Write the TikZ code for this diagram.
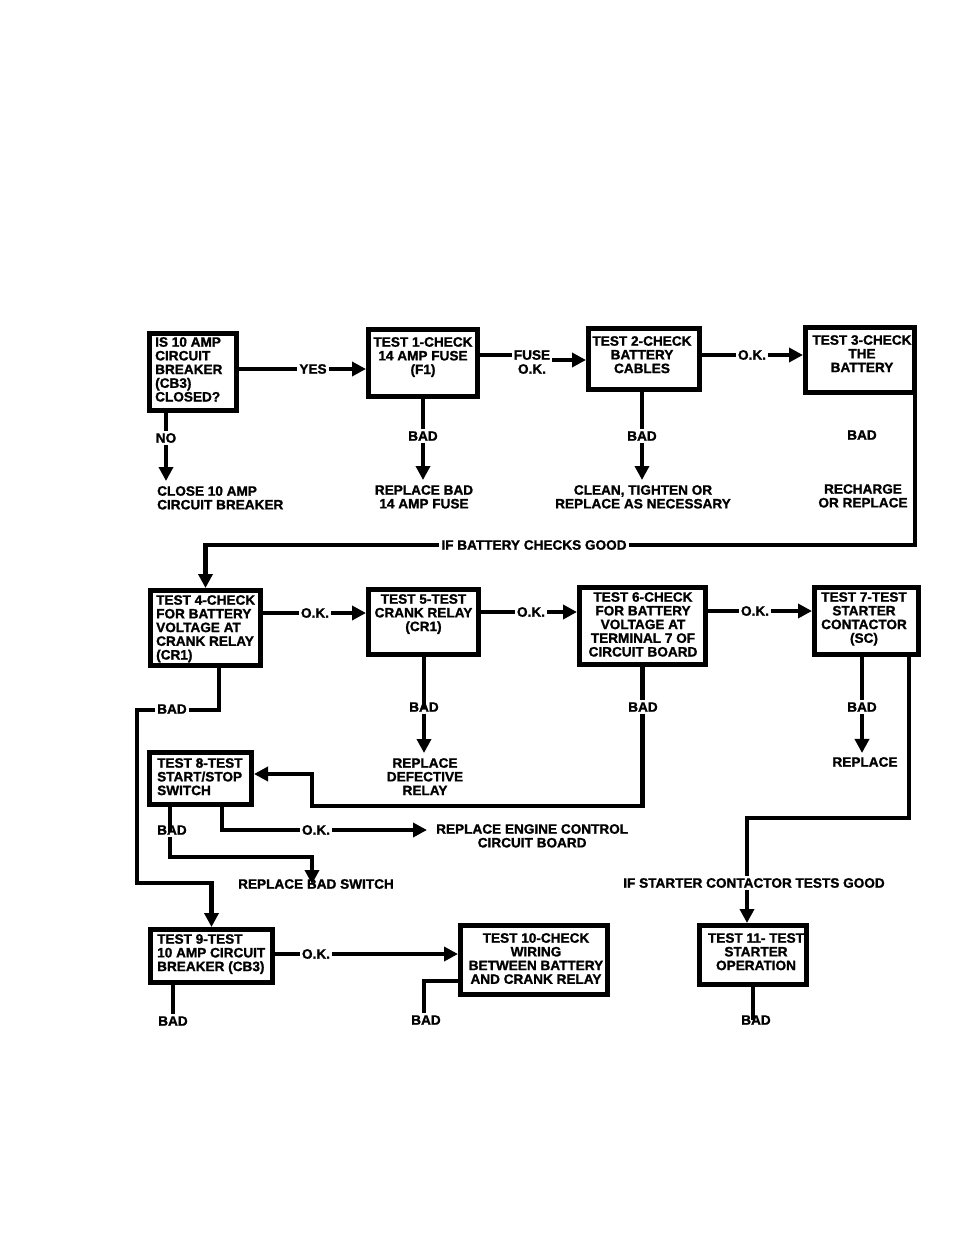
\documentclass[tikz,border=0pt]{standalone}
\usepackage{fontspec}
\setmainfont{Liberation Sans}[BoldFeatures={FakeBold=1.3}]
\usetikzlibrary{arrows.meta,calc}
\begin{document}
\begin{tikzpicture}[x=1pt,y=-1pt,
 box/.style={draw, line width=5pt, rectangle, inner sep=0pt},
 txt/.style={font=\bfseries\fontsize{13.6}{13.7}\selectfont, inner sep=0pt, align=center},
 ltxt/.style={txt, align=left},
 lbl/.style={font=\bfseries\fontsize{13.6}{13.7}\selectfont, inner sep=2pt},
 con/.style={line width=4.5pt},
 arr/.style={con, -{Triangle[width=14pt,length=14pt]}}]
\fill[white] (0,0) rectangle (954,1235);
\useasboundingbox (0,0) rectangle (954,1235);
% boxes
\node[box, minimum width=87pt, minimum height=77pt] (a) at (193,372) {};
\node[box, minimum width=109pt, minimum height=67pt] (t1) at (423,363) {};
\node[box, minimum width=111pt, minimum height=61pt] (t2) at (644,359) {};
\node[box, minimum width=109pt, minimum height=65pt] (t3) at (860,360) {};
\node[box, minimum width=110pt, minimum height=75pt] (t4) at (205.5,628) {};
\node[box, minimum width=110pt, minimum height=65pt] (t5) at (423.5,622) {};
\node[box, minimum width=126pt, minimum height=77pt] (t6) at (642.5,626) {};
\node[box, minimum width=104pt, minimum height=67pt] (t7) at (866.5,621) {};
\node[box, minimum width=102pt, minimum height=52pt] (t8) at (200.5,778.5) {};
\node[box, minimum width=122pt, minimum height=53pt] (t9) at (211.5,956) {};
\node[box, minimum width=147pt, minimum height=69pt] (t10) at (534,960) {};
\node[box, minimum width=107pt, minimum height=59pt] (t11) at (753,955) {};
% box texts
\node[ltxt, anchor=north west] (atx) at (155,337) {IS 10 AMP\\CIRCUIT\\BREAKER\\(CB3)\\CLOSED?};
\node[txt, anchor=north] (t1tx) at (423,337) {TEST 1-CHECK\\14 AMP FUSE\\(F1)};
\node[txt, anchor=north] (t2tx) at (642,336) {TEST 2-CHECK\\BATTERY\\CABLES};
\node[txt, anchor=north] (t3tx) at (862,335) {TEST 3-CHECK\\THE\\BATTERY};
\node[ltxt, anchor=north west] (t4tx) at (156,595) {TEST 4-CHECK\\FOR BATTERY\\VOLTAGE AT\\CRANK RELAY\\(CR1)};
\node[txt, anchor=north] (t5tx) at (423.5,594) {TEST 5-TEST\\CRANK RELAY\\(CR1)};
\node[txt, anchor=north] (t6tx) at (643,592) {TEST 6-CHECK\\FOR BATTERY\\VOLTAGE AT\\TERMINAL 7 OF\\CIRCUIT BOARD};
\node[txt, anchor=north] (t7tx) at (864,592) {TEST 7-TEST\\STARTER\\CONTACTOR\\(SC)};
\node[ltxt, anchor=north west] (t8tx) at (157,758) {TEST 8-TEST\\START/STOP\\SWITCH};
\node[ltxt, anchor=north west] (t9tx) at (157,934) {TEST 9-TEST\\10 AMP CIRCUIT\\BREAKER (CB3)};
\node[txt, anchor=north] (t10tx) at (536,933) {TEST 10-CHECK\\WIRING\\BETWEEN BATTERY\\AND CRANK RELAY};
\node[txt, anchor=north] (t11tx) at (756,933) {TEST 11- TEST\\STARTER\\OPERATION};
% labels
\node[lbl] (yes) at (313,369) {YES};
\node[lbl] (fuse) at (532,355) {FUSE};
\node[lbl] (fuseok) at (532,369) {O.K.};
\node[lbl] (ok1) at (752,355) {O.K.};
\node[lbl] (no) at (166,438) {NO};
\node[lbl] (bad1) at (423,436) {BAD};
\node[lbl] (bad2) at (642,436) {BAD};
\node[lbl] (bad3) at (862,435) {BAD};
\node[ltxt, anchor=north west] (res0) at (157,486) {CLOSE 10 AMP\\CIRCUIT BREAKER};
\node[txt, anchor=north] (res1) at (424,485) {REPLACE BAD\\14 AMP FUSE};
\node[txt, anchor=north] (res2) at (643,485) {CLEAN, TIGHTEN OR\\REPLACE AS NECESSARY};
\node[txt, anchor=north] (res3) at (863,484) {RECHARGE\\OR REPLACE};
\node[lbl] (ifbat) at (534,545) {IF BATTERY CHECKS GOOD};
\node[lbl] (ok4) at (315,613) {O.K.};
\node[lbl] (ok5) at (531,612) {O.K.};
\node[lbl] (ok6) at (755,611) {O.K.};
\node[lbl] (bad4) at (172,709) {BAD};
\node[lbl] (bad5) at (424,707) {BAD};
\node[lbl] (bad6) at (643,707) {BAD};
\node[lbl] (bad7) at (862,707) {BAD};
\node[txt, anchor=north] (res5) at (425,758) {REPLACE\\DEFECTIVE\\RELAY};
\node[lbl] (res7) at (865,762) {REPLACE};
\node[lbl] (ok8) at (316,830) {O.K.};
\node[lbl] (bad8) at (172,830) {BAD};
\node[txt, anchor=north west] (res8ok) at (436,824) {REPLACE ENGINE CONTROL\\CIRCUIT BOARD};
\node[lbl] (res8bad) at (316,884) {REPLACE BAD SWITCH};
\node[lbl] (ifsc) at (754,883) {IF STARTER CONTACTOR TESTS GOOD};
\node[lbl] (ok9) at (316,954) {O.K.};
\node[lbl] (bad9) at (173,1021) {BAD};
\node[lbl] (bad10) at (426,1020) {BAD};
\node[lbl] (bad11) at (756,1020) {BAD};
% bend coordinates
\coordinate (c3) at (915,545);
\coordinate (c4a) at (219,710);
\coordinate (c4b) at (137,710);
\coordinate (c4c) at (137,883);
\coordinate (c6a) at (642.5,806);
\coordinate (c6b) at (312,806);
\coordinate (c6c) at (312,774);
\coordinate (c7a) at (909,818);
\coordinate (c7b) at (747,818);
\coordinate (c8a) at (170,857);
\coordinate (c8b) at (312,857);
\coordinate (c8c) at (222,830);
\coordinate (c10) at (424,981);
% top row connectors
\draw[con] (a.east |- yes) -- (yes.west);
\draw[arr] (yes.east) -- (t1.west |- yes);
\draw[con] (t1.east |- fuse) -- (fuse.west);
\draw[arr] ([yshift=-5pt]fuse.east) -- ([yshift=-5pt]t2.west |- fuse.east);
\draw[con] (t2.east |- ok1) -- (ok1.west);
\draw[arr] (ok1.east) -- (t3.west |- ok1);
\draw[con] (a.south -| no) -- (no.north);
\draw[arr, shorten >=5pt] (no.south) -- (no |- res0.north);
\draw[con] (t1.south -| bad1) -- (bad1.north);
\draw[arr, shorten >=5pt] (bad1.south) -- (bad1 |- res1.north);
\draw[con] (t2.south -| bad2) -- (bad2.north);
\draw[arr, shorten >=5pt] (bad2.south) -- (bad2 |- res2.north);
\draw[con] (t3.south -| c3) -- (c3) -- (ifbat.east);
\draw[arr] (ifbat.west) -- (ifbat.west -| t4) -- (t4.north);
% second row
\draw[con] (t4.east |- ok4) -- (ok4.west);
\draw[arr] (ok4.east) -- (t5.west |- ok4);
\draw[con] (t5.east |- ok5) -- (ok5.west);
\draw[arr] (ok5.east) -- (t6.west |- ok5);
\draw[con] (t6.east |- ok6) -- (ok6.west);
\draw[arr] (ok6.east) -- (t7.west |- ok6);
\draw[con] (t4.south -| c4a) -- (c4a) -- (bad4.east |- c4a);
\draw[arr] (bad4.west |- c4b) -- (c4b) -- (c4c) -- (c4c -| t9) -- (t9.north);
\draw[con] (t5.south -| bad5) -- ([yshift=-2pt]bad5.center);
\draw[arr, shorten >=5pt] (bad5.south) -- (bad5 |- res5.north);
\draw[con] (t6.south) -- (bad6.north -| t6.south);
\draw[arr] (bad6.south -| c6a) -- (c6a) -- (c6b) -- (c6c) -- (t8.east |- c6c);
\draw[con] (t7.south -| bad7) -- (bad7.north);
\draw[arr, shorten >=2pt] (bad7.south) -- (bad7 |- res7.north);
\draw[con] (t7.south -| c7a) -- (c7a) -- (c7b) -- (c7b |- ifsc.north);
\draw[arr] (ifsc.south -| c7b) -- (t11.north -| c7b);
% third row
\draw[con] (t8.south -| c8a) -- ([yshift=-2pt]bad8.center -| c8a);
\draw[arr] (bad8.south -| c8a) -- (c8a) -- (c8b) -- (c8b |- res8bad.center);
\draw[con] (t8.south -| c8c) -- (c8c) -- (ok8.west);
\draw[arr, shorten >=9pt] (ok8.east) -- (res8ok.west |- ok8);
\draw[con] (t9.east |- ok9) -- (ok9.west);
\draw[arr] (ok9.east) -- (t10.west |- ok9);
\draw[con] (t9.south -| bad9) -- (bad9.north);
\draw[con] (t10.west |- c10) -- (c10) -- (c10 |- bad10.north);
\draw[con] (t11.south) -- (t11.south |- bad11.center);
\end{tikzpicture}
\end{document}
